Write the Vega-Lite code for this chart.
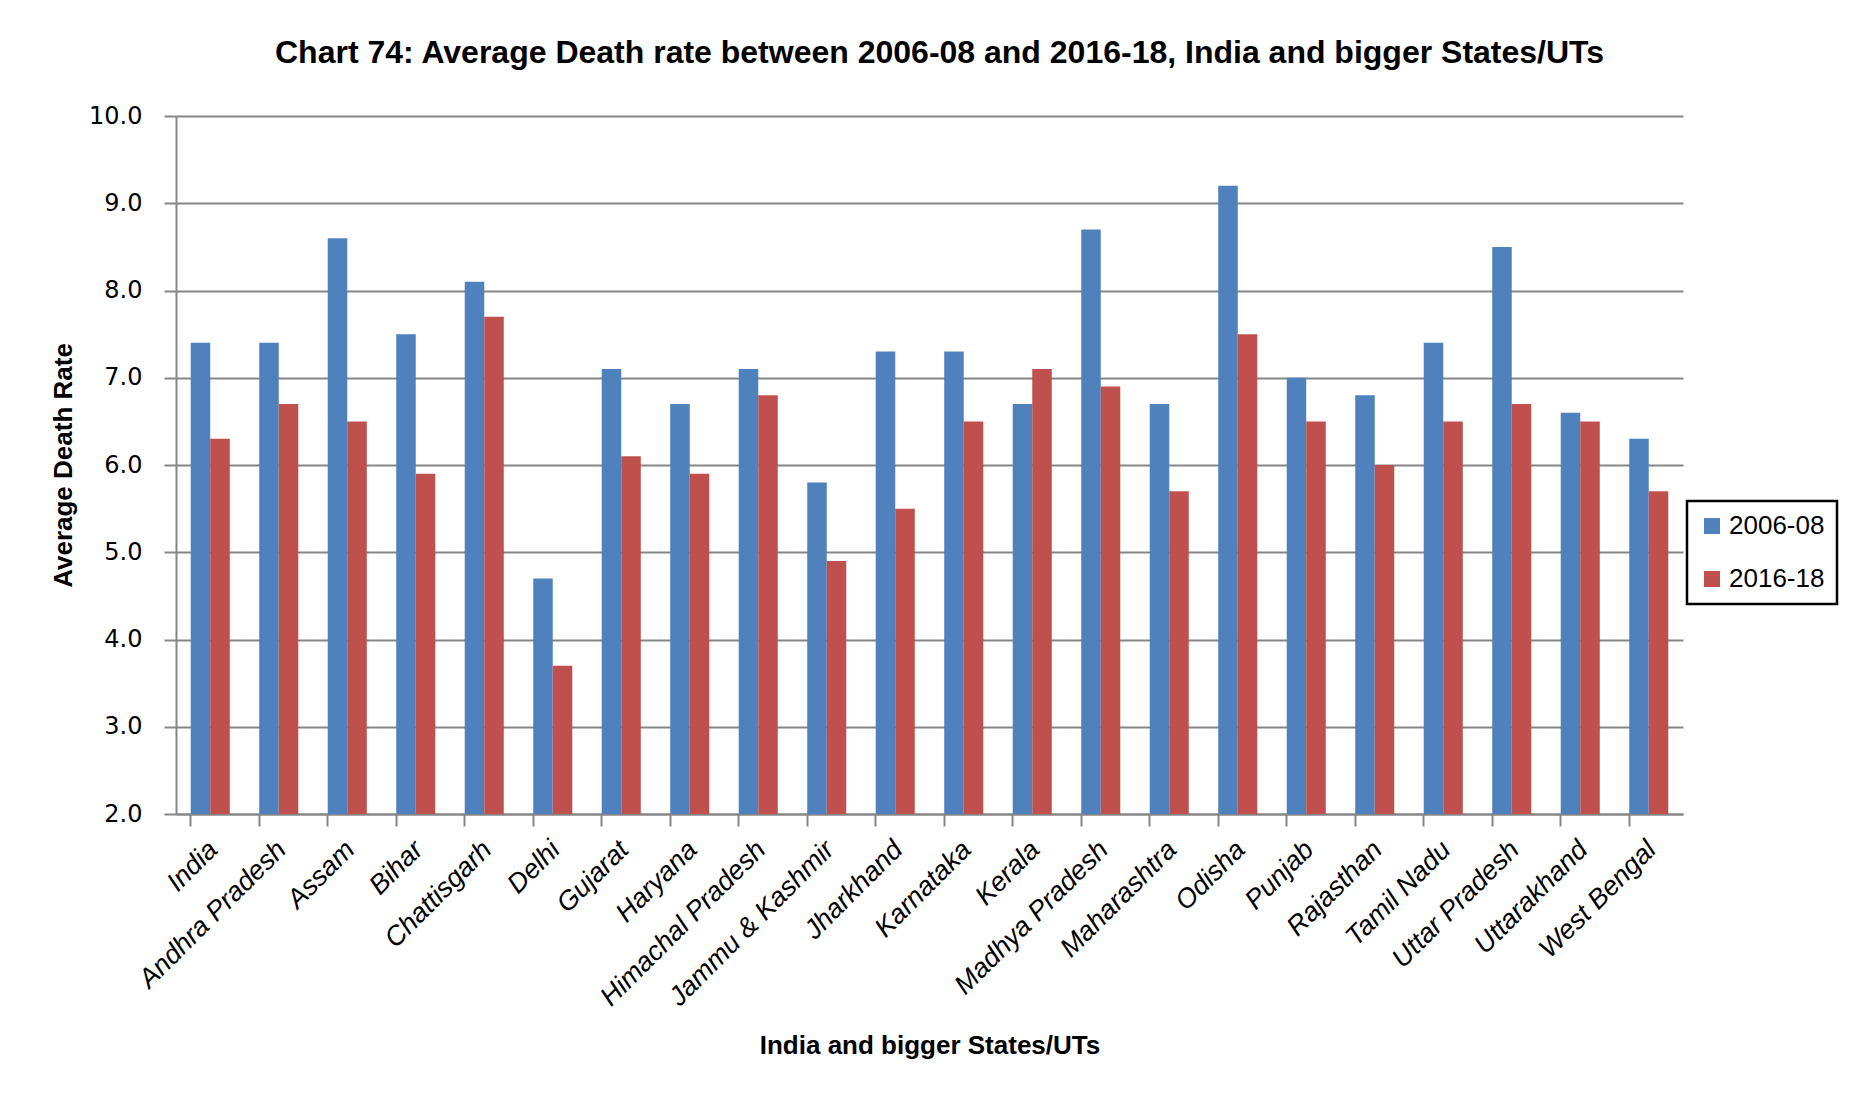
{
  "$schema": "https://vega.github.io/schema/vega-lite/v6.json",
  "autosize": {"type": "none"},
  "width": 1507,
  "height": 698,
  "padding": {"left": 176, "top": 116, "right": 181, "bottom": 305},
  "background": "white",
  "title": {
    "text": "Chart 74: Average Death rate between 2006-08 and 2016-18, India and bigger States/UTs",
    "font": "Liberation Sans",
    "fontSize": 32,
    "fontWeight": "bold",
    "color": "#000000",
    "anchor": "middle",
    "dx": 10,
    "offset": 34
  },
  "data": {
    "values": [
      {"state": "India", "period": "2006-08", "rate": 7.4},
      {"state": "India", "period": "2016-18", "rate": 6.3},
      {"state": "Andhra Pradesh", "period": "2006-08", "rate": 7.4},
      {"state": "Andhra Pradesh", "period": "2016-18", "rate": 6.7},
      {"state": "Assam", "period": "2006-08", "rate": 8.6},
      {"state": "Assam", "period": "2016-18", "rate": 6.5},
      {"state": "Bihar", "period": "2006-08", "rate": 7.5},
      {"state": "Bihar", "period": "2016-18", "rate": 5.9},
      {"state": "Chattisgarh", "period": "2006-08", "rate": 8.1},
      {"state": "Chattisgarh", "period": "2016-18", "rate": 7.7},
      {"state": "Delhi", "period": "2006-08", "rate": 4.7},
      {"state": "Delhi", "period": "2016-18", "rate": 3.7},
      {"state": "Gujarat", "period": "2006-08", "rate": 7.1},
      {"state": "Gujarat", "period": "2016-18", "rate": 6.1},
      {"state": "Haryana", "period": "2006-08", "rate": 6.7},
      {"state": "Haryana", "period": "2016-18", "rate": 5.9},
      {"state": "Himachal Pradesh", "period": "2006-08", "rate": 7.1},
      {"state": "Himachal Pradesh", "period": "2016-18", "rate": 6.8},
      {"state": "Jammu & Kashmir", "period": "2006-08", "rate": 5.8},
      {"state": "Jammu & Kashmir", "period": "2016-18", "rate": 4.9},
      {"state": "Jharkhand", "period": "2006-08", "rate": 7.3},
      {"state": "Jharkhand", "period": "2016-18", "rate": 5.5},
      {"state": "Karnataka", "period": "2006-08", "rate": 7.3},
      {"state": "Karnataka", "period": "2016-18", "rate": 6.5},
      {"state": "Kerala", "period": "2006-08", "rate": 6.7},
      {"state": "Kerala", "period": "2016-18", "rate": 7.1},
      {"state": "Madhya Pradesh", "period": "2006-08", "rate": 8.7},
      {"state": "Madhya Pradesh", "period": "2016-18", "rate": 6.9},
      {"state": "Maharashtra", "period": "2006-08", "rate": 6.7},
      {"state": "Maharashtra", "period": "2016-18", "rate": 5.7},
      {"state": "Odisha", "period": "2006-08", "rate": 9.2},
      {"state": "Odisha", "period": "2016-18", "rate": 7.5},
      {"state": "Punjab", "period": "2006-08", "rate": 7.0},
      {"state": "Punjab", "period": "2016-18", "rate": 6.5},
      {"state": "Rajasthan", "period": "2006-08", "rate": 6.8},
      {"state": "Rajasthan", "period": "2016-18", "rate": 6.0},
      {"state": "Tamil Nadu", "period": "2006-08", "rate": 7.4},
      {"state": "Tamil Nadu", "period": "2016-18", "rate": 6.5},
      {"state": "Uttar Pradesh", "period": "2006-08", "rate": 8.5},
      {"state": "Uttar Pradesh", "period": "2016-18", "rate": 6.7},
      {"state": "Uttarakhand", "period": "2006-08", "rate": 6.6},
      {"state": "Uttarakhand", "period": "2016-18", "rate": 6.5},
      {"state": "West Bengal", "period": "2006-08", "rate": 6.3},
      {"state": "West Bengal", "period": "2016-18", "rate": 5.7}
    ]
  },
  "mark": {"type": "bar", "clip": true},
  "encoding": {
    "x": {
      "field": "state",
      "type": "nominal",
      "sort": null,
      "scale": {"paddingInner": 0.43, "paddingOuter": 0.215},
      "axis": {
        "title": "India and bigger States/UTs",
        "titleFont": "Liberation Sans",
        "titleFontSize": 26,
        "titleFontWeight": "bold",
        "titleColor": "#000000",
        "titlePadding": 22,
        "labelFont": "Liberation Sans",
        "labelFontStyle": "italic",
        "labelFontSize": 27,
        "labelColor": "#000000",
        "labelAngle": -45,
        "labelPadding": 10,
        "labelOffset": -6,
        "labelLimit": 0,
        "labelOverlap": false,
        "bandPosition": 0,
        "ticks": true,
        "tickSize": 12,
        "tickWidth": 2,
        "tickColor": "#868686",
        "domainColor": "#868686",
        "domainWidth": 2,
        "grid": false
      }
    },
    "xOffset": {"field": "period", "type": "nominal"},
    "y": {
      "field": "rate",
      "type": "quantitative",
      "scale": {"domain": [2, 10], "zero": false, "nice": false},
      "axis": {
        "title": "Average Death Rate",
        "titleFont": "Liberation Sans",
        "titleFontSize": 26,
        "titleFontWeight": "bold",
        "titleColor": "#000000",
        "titlePadding": 12,
        "values": [2, 3, 4, 5, 6, 7, 8, 9, 10],
        "format": ".1f",
        "labelFont": "DejaVu Sans",
        "labelFontSize": 24,
        "labelColor": "#000000",
        "labelPadding": 22,
        "tickSize": 12,
        "tickWidth": 2,
        "tickColor": "#868686",
        "domainColor": "#868686",
        "domainWidth": 2,
        "grid": true,
        "gridColor": "#868686",
        "gridWidth": 2
      }
    },
    "color": {
      "field": "period",
      "type": "nominal",
      "scale": {"domain": ["2006-08", "2016-18"], "range": ["#4F81BD", "#C0504D"]},
      "legend": {
        "title": null,
        "orient": "none",
        "legendX": 1511,
        "legendY": 385,
        "direction": "vertical",
        "symbolType": "square",
        "symbolSize": 256,
        "symbolStrokeWidth": 0,
        "labelFont": "Liberation Sans",
        "labelFontSize": 26,
        "labelColor": "#000000",
        "labelOffset": 4,
        "rowPadding": 27,
        "padding": 12,
        "strokeColor": "#000000",
        "fillColor": "#ffffff",
        "encode": {"legend": {"update": {"strokeWidth": {"value": 2.5}}}}
      }
    }
  },
  "config": {
    "view": {"stroke": null}
  }
}
